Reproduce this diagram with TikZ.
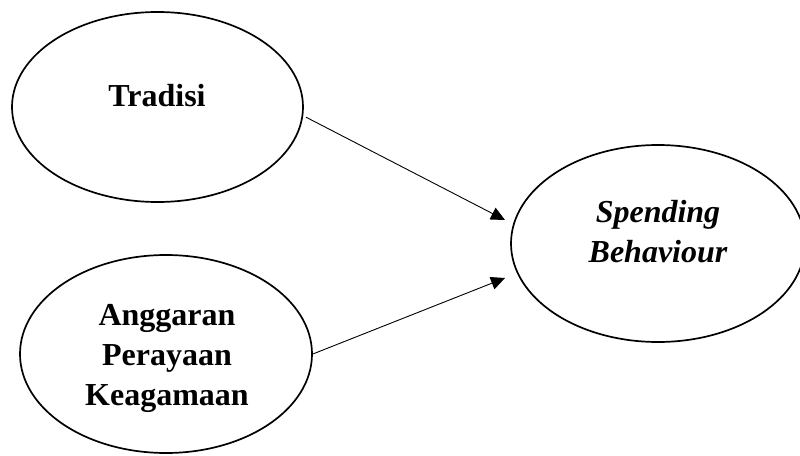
\documentclass[tikz,border=0pt]{standalone}
\usepackage{fontspec}
\setmainfont{Liberation Serif}
\usetikzlibrary{arrows.meta,shapes.geometric}
\tikzset{
  oval/.style={ellipse, draw=black, line width=1.7pt, inner sep=0pt},
  lbl/.style={align=center, inner sep=0pt, font=\bfseries\fontsize{32}{40}\selectfont},
  conn/.style={line width=0.9pt, -{Triangle[length=14pt,width=13pt]}}
}
\begin{document}
\begin{tikzpicture}[x=1pt,y=-1pt]
\useasboundingbox[fill=white] (0,0) rectangle (800,455);
\node[oval, minimum width=291pt, minimum height=190pt] (trad) at (157.5,107) {};
\node[oval, minimum width=292pt, minimum height=198pt] (ang) at (166,354) {};
\node[oval, minimum width=294pt, minimum height=197pt] (spend) at (658,243.5) {};
\node[lbl] (tradt) at (157,96) {Tradisi};
\node[lbl] (angt) at (167,358) {Anggaran\\Perayaan\\Keagamaan};
\node[lbl, font=\bfseries\itshape\fontsize{32}{40}\selectfont] (spendt) at (658,231.5) {Spending\\Behaviour};
\coordinate (t1) at (505,220);
\coordinate (t2) at (505,278);
\draw[conn] ([xshift=3pt]trad.-4) -- (t1);
\draw[conn] (ang.east) -- (t2);
\end{tikzpicture}
\end{document}
